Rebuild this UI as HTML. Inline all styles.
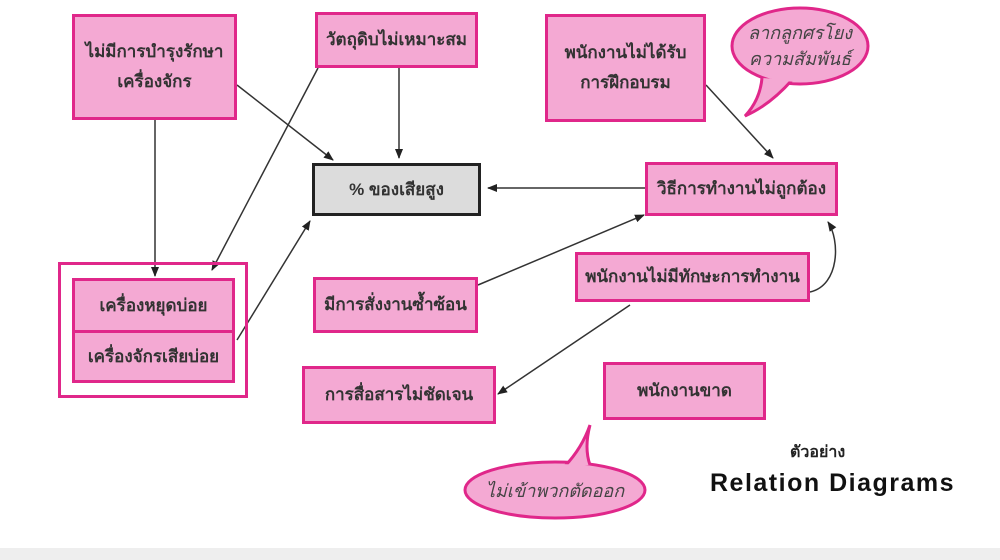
<!DOCTYPE html>
<html><head><meta charset="utf-8"><style>
body{margin:0;width:1000px;height:560px;background:#fff;position:relative;overflow:hidden;font-family:"Liberation Sans","Noto Sans CJK SC",sans-serif}
.b{position:absolute;background:#f4a9d3;border:3px solid #e0278a;box-sizing:border-box;display:flex;align-items:center;justify-content:center;text-align:center;font-size:17px;color:#333;line-height:30px;font-weight:bold}
svg{position:absolute;left:0;top:0}
</style></head><body>
<svg width="1000" height="560">
<defs><marker id="a" markerWidth="10" markerHeight="10" refX="9" refY="5" orient="auto" markerUnits="userSpaceOnUse"><path d="M0,1 L10,5 L0,9 z" fill="#222"/></marker></defs>
<g stroke="#333" stroke-width="1.5" fill="none" marker-end="url(#a)">
<line x1="155" y1="120" x2="155" y2="276"/>
<line x1="237" y1="85" x2="333" y2="160"/>
<line x1="318" y1="68" x2="212" y2="270"/>
<line x1="399" y1="68" x2="399" y2="158"/>
<line x1="237" y1="340" x2="310" y2="221"/>
<line x1="645" y1="188" x2="488" y2="188"/>
<line x1="706" y1="85" x2="773" y2="158"/>
<line x1="478" y1="285" x2="644" y2="215"/>
<path d="M810,292 C840,285 840,240 828,222"/>
<line x1="630" y1="305" x2="498" y2="394"/>
</g>
<g fill="#f4a9d3" stroke="#e0278a" stroke-width="3">
<ellipse cx="800" cy="46" rx="68" ry="38"/>
<path d="M762,78 Q760,100 745,116 Q770,105 792,80" />
<ellipse cx="555" cy="490" rx="90" ry="28"/>
<path d="M565,466 Q582,448 590,425 Q584,448 590,465"/>
</g>
<g fill="#f4a9d3">
<ellipse cx="800" cy="46" rx="66" ry="36"/>
<ellipse cx="555" cy="490" rx="88" ry="26"/>
</g>
</svg>
<div class="b" style="left:72px;top:14px;width:165px;height:106px">ไม่มีการบำรุงรักษา<br>เครื่องจักร</div>
<div class="b" style="left:315px;top:12px;width:163px;height:56px">วัตถุดิบไม่เหมาะสม</div>
<div class="b" style="left:312px;top:163px;width:169px;height:53px;background:#dcdcdc;border:3px solid #222">% ของเสียสูง</div>
<div class="b" style="left:545px;top:14px;width:161px;height:108px">พนักงานไม่ได้รับ<br>การฝึกอบรม</div>
<div style="position:absolute;left:735px;top:20px;width:130px;text-align:center;font-style:italic;font-size:18px;line-height:26px;color:#444">ลากลูกศรโยง<br>ความสัมพันธ์</div>
<div class="b" style="left:645px;top:162px;width:193px;height:54px">วิธีการทำงานไม่ถูกต้อง</div>
<div style="position:absolute;left:58px;top:262px;width:190px;height:136px;border:3px solid #e0278a;box-sizing:border-box"></div>
<div class="b" style="left:72px;top:278px;width:163px;height:55px">เครื่องหยุดบ่อย</div>
<div class="b" style="left:72px;top:330px;width:163px;height:53px">เครื่องจักรเสียบ่อย</div>
<div class="b" style="left:313px;top:277px;width:165px;height:56px">มีการสั่งงานซ้ำซ้อน</div>
<div class="b" style="left:575px;top:252px;width:235px;height:50px">พนักงานไม่มีทักษะการทำงาน</div>
<div class="b" style="left:302px;top:366px;width:194px;height:58px">การสื่อสารไม่ชัดเจน</div>
<div class="b" style="left:603px;top:362px;width:163px;height:58px">พนักงานขาด</div>
<div style="position:absolute;left:465px;top:476px;width:180px;text-align:center;font-style:italic;font-size:18px;color:#444">ไม่เข้าพวกตัดออก</div>
<div style="position:absolute;left:790px;top:440px;font-size:16px;font-weight:bold;color:#222">ตัวอย่าง</div>
<div style="position:absolute;left:710px;top:469px;font-size:25px;letter-spacing:1.5px;font-weight:bold;color:#111">Relation Diagrams</div>
<div style="position:absolute;left:0;top:548px;width:1000px;height:12px;background:#eee"></div>
</body></html>
